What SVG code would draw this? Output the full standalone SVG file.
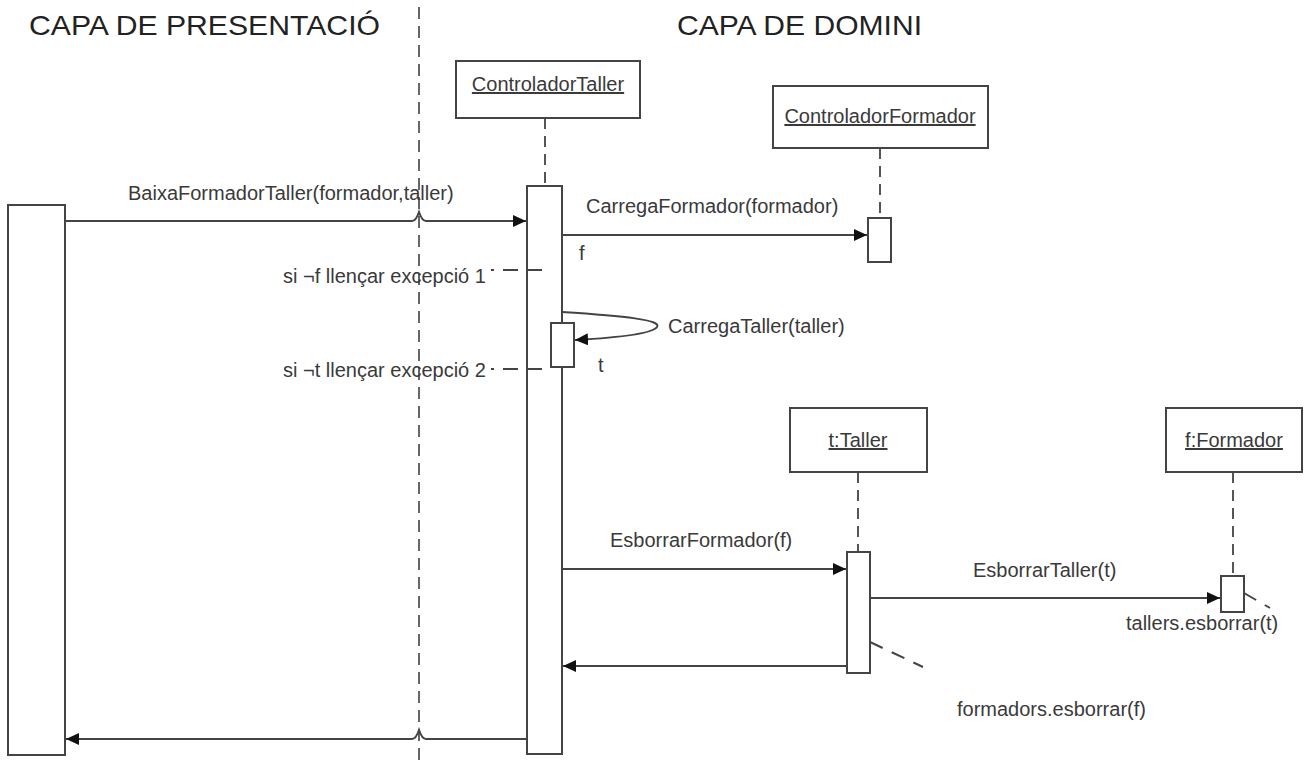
<svg xmlns="http://www.w3.org/2000/svg" width="1305" height="765" viewBox="0 0 1305 765">
  <style>
    .title { font-family: "Liberation Sans", Arial, sans-serif; font-size: 28px; fill: #222; }
    .lbl { font-family: "Liberation Sans", Arial, sans-serif; font-size: 20px; fill: #3a3a3a; }
    .name { font-family: "Liberation Sans", Arial, sans-serif; font-size: 20px; fill: #3a3a3a; text-anchor: middle; text-decoration: underline; }
    .box { fill: #fff; stroke: #444; stroke-width: 2; }
    .life { stroke: #555; stroke-width: 2; stroke-dasharray: 11 7; fill: none; }
    .msg { stroke: #444; stroke-width: 2; fill: none; }
    .note { stroke: #444; stroke-width: 2; stroke-dasharray: 14 10; fill: none; }
    .guard { stroke: #444; stroke-width: 2; stroke-dasharray: 3 9 15 10 14; fill: none; }
    .divider { stroke: #666; stroke-width: 2; stroke-dasharray: 12 7; fill: none; }
  </style>
  <defs>
    <marker id="arrow" markerUnits="userSpaceOnUse" markerWidth="14" markerHeight="12" refX="13" refY="6" orient="auto">
      <path d="M0,0 L13,6 L0,12 z" fill="#111"/>
    </marker>
  </defs>
  <rect width="1305" height="765" fill="#fff"/>

  <!-- layer titles and separator -->
  <text class="title" x="29" y="35" textLength="351" lengthAdjust="spacingAndGlyphs">CAPA DE PRESENTACIÓ</text>
  <text class="title" x="677" y="35" textLength="245" lengthAdjust="spacingAndGlyphs">CAPA DE DOMINI</text>
  <line class="divider" x1="419" y1="7" x2="419" y2="765"/>

  <!-- lifelines -->
  <g id="lifelines">
    <line class="life" x1="545" y1="118" x2="545" y2="186"/>
    <line class="life" x1="880" y1="148" x2="880" y2="218"/>
    <line class="life" x1="858" y1="472" x2="858" y2="552"/>
    <line class="life" x1="1233" y1="472" x2="1233" y2="576"/>
  </g>

  <!-- actor on the presentation layer -->
  <g id="actor">
    <rect class="box" x="8" y="205" width="57" height="550"/>
  </g>

  <g id="controlador-taller">
    <rect class="box" x="456" y="61" width="184" height="57"/>
    <text class="name" x="548" y="91">ControladorTaller</text>
    <rect class="box" x="527" y="186" width="35" height="568"/>
    <rect class="box" x="551" y="323" width="23" height="44"/>
  </g>

  <g id="controlador-formador">
    <rect class="box" x="773" y="86" width="215" height="62"/>
    <text class="name" x="880" y="123">ControladorFormador</text>
    <rect class="box" x="868" y="218" width="23" height="44"/>
  </g>

  <g id="taller">
    <rect class="box" x="790" y="408" width="137" height="64"/>
    <text class="name" x="858" y="447">t:Taller</text>
    <rect class="box" x="847" y="552" width="23" height="121"/>
  </g>

  <g id="formador">
    <rect class="box" x="1166" y="408" width="136" height="64"/>
    <text class="name" x="1234" y="447">f:Formador</text>
    <rect class="box" x="1221" y="576" width="23" height="36"/>
  </g>

  <!-- messages -->
  <g id="connectors">
    <path class="msg" d="M65,221 H412 Q416,221 419,212 Q422,221 426,221 H526" marker-end="url(#arrow)"/>
    <path class="msg" d="M562,235 H867" marker-end="url(#arrow)"/>
    <path class="guard" d="M491,270 H542"/>
    <path class="msg" d="M562,312 C625,316 662,320 657,327 C652,334 612,338 575,340" marker-end="url(#arrow)"/>
    <path class="guard" d="M491,369 H542"/>
    <path class="msg" d="M562,569 H846" marker-end="url(#arrow)"/>
    <path class="msg" d="M870,598 H1220" marker-end="url(#arrow)"/>
    <path class="note" d="M1244,593 L1270,608"/>
    <path class="msg" d="M847,666 H563" marker-end="url(#arrow)"/>
    <path class="note" d="M870,642 L923,667"/>
    <path class="msg" d="M527,739 H426 Q422,739 419,730 Q416,739 412,739 H66" marker-end="url(#arrow)"/>
  </g>

  <!-- message labels -->
  <g id="labels">
    <text class="lbl" x="128" y="200">BaixaFormadorTaller(formador,taller)</text>
    <text class="lbl" x="586" y="213">CarregaFormador(formador)</text>
    <text class="lbl" x="579" y="260">f</text>
    <text class="lbl" x="283" y="283">si ¬f llençar excepció 1</text>
    <text class="lbl" x="668" y="333">CarregaTaller(taller)</text>
    <text class="lbl" x="598" y="372">t</text>
    <text class="lbl" x="283" y="377">si ¬t llençar excepció 2</text>
    <text class="lbl" x="610" y="547">EsborrarFormador(f)</text>
    <text class="lbl" x="973" y="577">EsborrarTaller(t)</text>
    <text class="lbl" x="1126" y="630">tallers.esborrar(t)</text>
    <text class="lbl" x="957" y="716">formadors.esborrar(f)</text>
  </g>
</svg>
